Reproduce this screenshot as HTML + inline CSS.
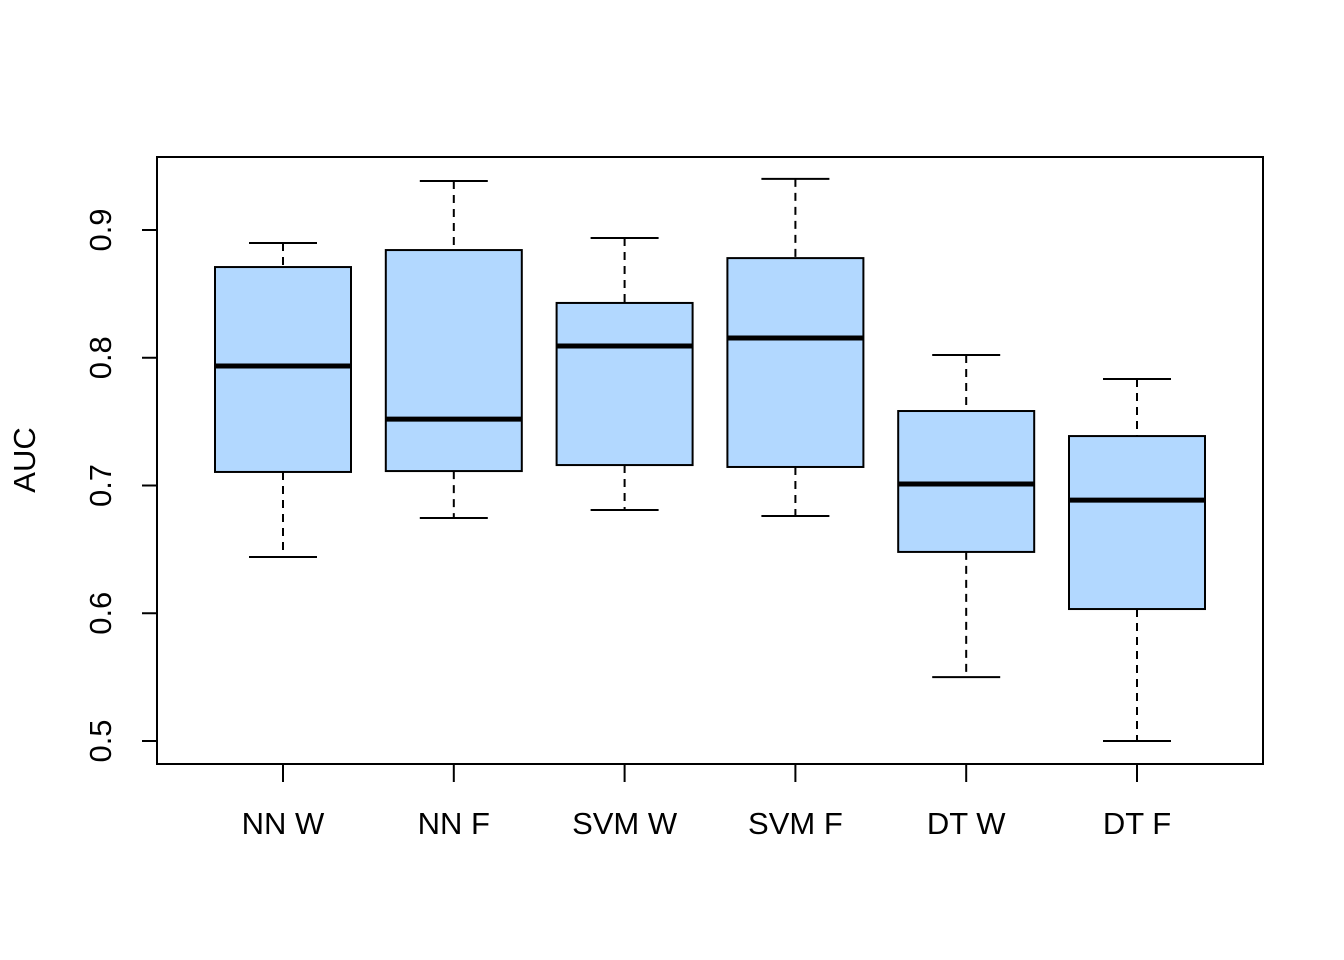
<!DOCTYPE html>
<html><head><meta charset="utf-8"><style>body{margin:0;background:#fff}svg{display:block}text{font-family:"Liberation Sans",Arial,sans-serif;fill:#000}</style></head>
<body>
<svg id="chart" width="1344" height="960" xmlns="http://www.w3.org/2000/svg">
<rect x="157" y="157" width="1106" height="607" fill="none" stroke="#000" stroke-width="2"/>
<g id="marks"></g>
</svg>
<script>
const categories = ["NN W","NN F","SVM W","SVM F","DT W","DT F"];
const lowerWhisker = [0.644,0.6746,0.6808,0.6761,0.550,0.500];
const q1Values = [0.7106,0.7113,0.716,0.7145,0.648,0.6033];
const medianValues = [0.7935,0.752,0.8092,0.8155,0.7012,0.6886];
const q3Values = [0.871,0.8843,0.8429,0.878,0.7583,0.7387];
const upperWhisker = [0.8898,0.9384,0.8937,0.940,0.8022,0.7834];
const yTicks = [0.5,0.6,0.7,0.8,0.9];
const yTickLabels = ["0.5","0.6","0.7","0.8","0.9"];

const NS="http://www.w3.org/2000/svg";
const svg=document.getElementById('marks');
function y(v){return 230+(0.9-v)*1277.5;}
function x(i){return 283+i*170.8;}
function mk(tag,attrs,parent){const e=document.createElementNS(NS,tag);for(const k in attrs)e.setAttribute(k,attrs[k]);(parent||svg).appendChild(e);return e;}

yTicks.forEach((t,i)=>{
  const g=mk('g',{});
  
  
  mk('line',{x1:157,x2:142,y1:y(t),y2:y(t),stroke:'#000','stroke-width':2},g);
  const tx=mk('text',{x:0,y:0,'font-size':31,'text-anchor':'middle',transform:`translate(111,${y(t)}) rotate(-90)`},g);
  tx.textContent=yTickLabels[i];
});
const yt=mk('text',{x:0,y:0,'font-size':31,'text-anchor':'middle',transform:'translate(35,460) rotate(-90)'});


yt.textContent='AUC';

categories.forEach((c,i)=>{
  const cx=x(i);
  const g=mk('g',{});
  
  
  mk('line',{x1:cx,x2:cx,y1:y(upperWhisker[i]),y2:y(q3Values[i]),stroke:'#000','stroke-width':2,'stroke-dasharray':'8,6'},g);
  mk('line',{x1:cx,x2:cx,y1:y(q1Values[i]),y2:y(lowerWhisker[i]),stroke:'#000','stroke-width':2,'stroke-dasharray':'8,6'},g);
  mk('line',{x1:cx-34,x2:cx+34,y1:y(upperWhisker[i]),y2:y(upperWhisker[i]),stroke:'#000','stroke-width':2},g);
  mk('line',{x1:cx-34,x2:cx+34,y1:y(lowerWhisker[i]),y2:y(lowerWhisker[i]),stroke:'#000','stroke-width':2},g);
  mk('rect',{x:cx-68,y:y(q3Values[i]),width:136,height:y(q1Values[i])-y(q3Values[i]),fill:'#b2d8ff',stroke:'#000','stroke-width':2},g);
  mk('line',{x1:cx-68,x2:cx+68,y1:y(medianValues[i]),y2:y(medianValues[i]),stroke:'#000','stroke-width':5},g);
  mk('line',{x1:cx,x2:cx,y1:764,y2:782,stroke:'#000','stroke-width':2},g);
  const t=mk('text',{x:cx,y:834,'font-size':31,'text-anchor':'middle'});
  
  
  t.textContent=c;
});
</script>
</body></html>
